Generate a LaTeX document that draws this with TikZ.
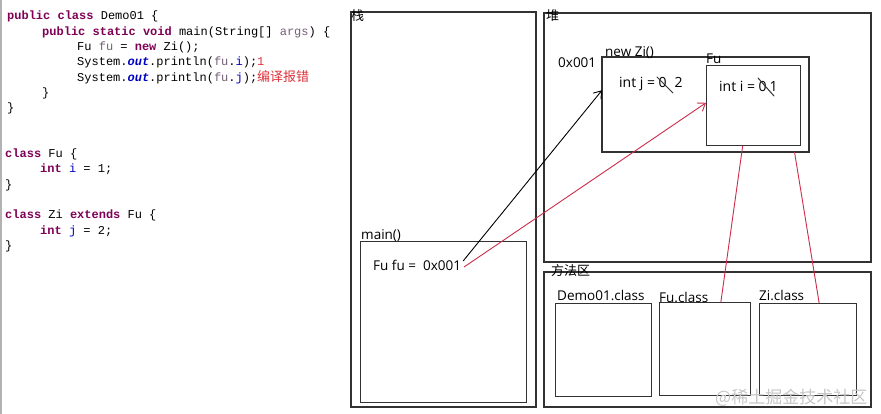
\documentclass[tikz,border=0pt]{standalone}
\usepackage{fontspec}
\setmainfont{Open Sans}
\setmonofont{Liberation Mono}
\newfontfamily\cjk{Noto Sans CJK SC}
\usepackage{tikz}
\usetikzlibrary{arrows.meta,calc}

\definecolor{kwpurple}{RGB}{127,0,85}
\definecolor{fldblue}{RGB}{0,0,192}
\definecolor{varcol}{RGB}{116,96,120}
\definecolor{errred}{RGB}{222,50,60}
\definecolor{boxgray}{RGB}{50,50,50}
\definecolor{linkred}{RGB}{205,45,75}

\newcommand{\kw}[1]{\textcolor{kwpurple}{\bfseries #1}}
\newcommand{\fld}[1]{\textcolor{fldblue}{#1}}
\newcommand{\lvar}[1]{\textcolor{varcol}{#1}}
\newcommand{\outf}[1]{\textcolor{fldblue}{\bfseries\itshape #1}}
\newcommand{\errtxt}[1]{\textcolor{errred}{#1}}

\begin{document}
\begin{tikzpicture}[x=1pt, y=-1pt, line cap=round,
  membox/.style={draw=boxgray, line width=1.3pt, inner sep=0pt, outer sep=0pt, anchor=north west},
  inbox/.style={draw=boxgray, line width=1pt, inner sep=0pt, outer sep=0pt, anchor=north west},
  lbl/.style={inner sep=0pt, anchor=base west, font=\fontsize{13.5}{15}\selectfont},
  zh/.style={inner sep=0pt, anchor=base west, font=\cjk\fontsize{13}{15}\selectfont},
  code/.style={inner sep=0pt, anchor=base west, font=\ttfamily\fontsize{12}{14}\selectfont},
  link/.style={line width=0.9pt},
  tip/.style={-{Straight Barb[length=7pt,width=10pt]}}]
  \useasboundingbox (0,0) rectangle (881,414);
  \fill[white] (0,0) rectangle (881,414);
  \draw[gray!60, line width=1.5pt] (0.8,0) -- (0.8,414);

  % code
  \node[code] (c0)  at (7,20)    {\kw{public class} Demo01 \{};
  \node[code] (c1)  at (42,35.3) {\kw{public static void} main(String[] \lvar{args}) \{};
  \node[code] (c2)  at (77,50.6) {Fu \lvar{fu} = \kw{new} Zi();};
  \node[code] (c3)  at (77,65.9) {System.\outf{out}.println(\lvar{fu}.\fld{i});\errtxt{1}};
  \node[code] (c4)  at (77,81.2) {System.\outf{out}.println(\lvar{fu}.\fld{j});\errtxt{\cjk\fontsize{13}{15}\selectfont 编译报错}};
  \node[code] (c5)  at (42,96.5) {\}};
  \node[code] (c6)  at (7,111.8) {\}};
  \node[code] (c9)  at (5,157.7) {\kw{class} Fu \{};
  \node[code] (c10) at (40,173)  {\kw{int} \fld{i} = 1;};
  \node[code] (c11) at (5,188.3) {\}};
  \node[code] (c13) at (5,218.9) {\kw{class} Zi \kw{extends} Fu \{};
  \node[code] (c14) at (40,234.2) {\kw{int} \fld{j} = 2;};
  \node[code] (c15) at (5,249.5) {\}};

  % stack
  \node[membox, minimum width=185pt, minimum height=395pt] (stack) at (351,12) {};
  \node[zh] (stacklbl) at (351,21) {栈};
  \node[inbox, minimum width=166pt, minimum height=160pt] (mainf) at (360,242) {};
  \node[lbl] (mainlbl) at (361,240) {main()};
  \node[lbl] (fuval) at (373,270) {Fu fu =\ \ 0x001};

  % heap
  \node[membox, minimum width=327pt, minimum height=249pt] (heap) at (544,13) {};
  \node[zh] (heaplbl) at (546,21) {堆};
  \node[membox, line width=1.2pt, minimum width=207pt, minimum height=95pt] (zi) at (602,57) {};
  \node[lbl] (zilbl) at (605,57) {new Zi()};
  \node[lbl] (addr) at (558,68) {0x001};
  \node[inbox, minimum width=94pt, minimum height=80pt] (fu) at (706,66) {};
  \node[lbl] (fulbl) at (706,64) {Fu};
  \node[lbl, font=\fontsize{14}{16}\selectfont] (jval) at (619,88) {int j = 0\hspace{8pt}2};
  \node[lbl, font=\fontsize{14}{16}\selectfont] (ival) at (719,92) {int i = 0\hspace{3pt}1};
  \draw[boxgray, line width=1pt] (657,77) -- (673,93);
  \draw[boxgray, line width=1pt] (758,78) -- (774,96);

  % method area
  \node[membox, minimum width=327pt, minimum height=135pt] (method) at (544,272) {};
  \node[zh] (methodlbl) at (551,276) {方法区};
  \node[inbox, minimum width=96pt, minimum height=93pt] (demo) at (555,303) {};
  \node[lbl] (demolbl) at (557,300) {Demo01.class};
  \node[inbox, minimum width=91pt, minimum height=93pt] (fucls) at (659,302) {};
  \node[lbl] (fuclslbl) at (659,302) {Fu.class};
  \node[inbox, minimum width=97pt, minimum height=92pt] (zicls) at (759,303) {};
  \node[lbl] (ziclslbl) at (759,300) {Zi.class};

  % links
  \draw[link, tip] ($(fuval.east)+(2,-4)$) -- ($(zi.north west)!0.35!(zi.south west)$);
  \draw[link, tip, linkred] ($(fuval.east)+(3,2)$) -- ($(fu.north west)!0.46!(fu.south west)$);
  \draw[link, linkred] ($(fu.south west)!0.39!(fu.south east)$) -- ($(fucls.north west)!0.68!(fucls.north east)$);
  \draw[link, linkred] ($(zi.south west)!0.93!(zi.south east)$) -- ($(zicls.north west)!0.62!(zicls.north east)$);

  \node[inner sep=0pt, anchor=base west, font=\cjk\fontsize{17}{19}\selectfont, text=gray!45] (wm) at (715,403) {@稀土掘金技术社区};
\end{tikzpicture}
\end{document}
